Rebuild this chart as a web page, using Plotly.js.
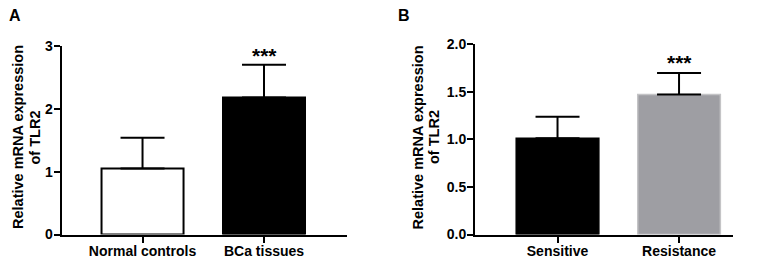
<!DOCTYPE html>
<html><head><meta charset="utf-8">
<script src="https://cdn.plot.ly/plotly-3.0.1.min.js"></script>
<style>html,body{margin:0;padding:0;background:#fff;overflow:hidden}</style>
</head><body><div id="chart" style="width:765px;height:259px"></div>
<script>
// Panel A data
const categoriesA = ["Normal controls", "BCa tissues"];
const meansA = [1.05, 2.18];
const errA = [0.49, 0.52];
const yTicksA = [0, 1, 2, 3];
const yTickTextA = ["0", "1", "2", "3"];
// Panel B data
const categoriesB = ["Sensitive", "Resistance"];
const meansB = [1.01, 1.47];
const errB = [0.225, 0.225];
const yTicksB = [0, 0.5, 1, 1.5, 2];
const yTickTextB = ["0.0", "0.5", "1.0", "1.5", "2.0"];
// significance labels, panel labels, axis title lines
const sigA = "***";
const sigB = "***";
const panelLabels = ["A", "B"];
const yTitleLines = ["Relative mRNA expression", "of TLR2"];

const FONT = "Liberation Sans, Arial, Helvetica, sans-serif";
const f = (s) => ({family: FONT, size: s, color: "#000", weight: "bold"});
const W = 765, H = 259;
const px = (x) => x / W, py = (y) => 1 - y / H;

const traceA = {
  type: "bar", x: categoriesA, y: meansA, xaxis: "x", yaxis: "y",
  width: 0.675,
  marker: {color: ["#ffffff", "#000000"], line: {color: ["#000000", "#000000"], width: 2}},
  error_y: {type: "data", symmetric: false, array: errA, arrayminus: [0, 0], color: "#000", thickness: 2, width: 22},
  hoverinfo: "skip", showlegend: false
};
const traceB = {
  type: "bar", x: categoriesB, y: meansB, xaxis: "x2", yaxis: "y2",
  width: 0.68,
  marker: {color: ["#000000", "#9e9ea3"], line: {color: ["#000000", "#c4c4c6"], width: 1.5}},
  error_y: {type: "data", symmetric: false, array: errB, arrayminus: [0, 0], color: "#000", thickness: 2, width: 22},
  hoverinfo: "skip", showlegend: false
};

const axCommon = {
  showline: true, linewidth: 2, linecolor: "#000", ticks: "outside", ticklen: 6, tickwidth: 2,
  tickcolor: "#000", showgrid: false, zeroline: false, tickfont: f(14), fixedrange: true
};

function titleAnn(xs, yc) {
  return yTitleLines.map((t, i) => ({
    xref: "paper", yref: "paper", x: px(xs[i]), y: py(yc), xanchor: "center", yanchor: "middle",
    text: t, textangle: -90, showarrow: false, font: f(14.5)
  }));
}

const layout = {
  width: W, height: H, margin: {l: 0, r: 0, t: 0, b: 0},
  paper_bgcolor: "#fff", plot_bgcolor: "#fff", bargap: 0,
  font: f(14),
  xaxis: Object.assign({}, axCommon, {domain: [61.5/W, 347/W], range: [-0.667, 1.683], anchor: "y",
    type: "category", ticklabelstandoff: -3}),
  yaxis: Object.assign({}, axCommon, {domain: [24.5/H, 213/H], range: [0, 3], anchor: "x",
    tickmode: "array", tickvals: yTicksA, ticktext: yTickTextA, ticklabelstandoff: -2}),
  xaxis2: Object.assign({}, axCommon, {domain: [475/W, 733/W], range: [-0.679, 1.444], anchor: "y2",
    type: "category", ticklabelstandoff: -3}),
  yaxis2: Object.assign({}, axCommon, {domain: [24.5/H, 215/H], range: [0, 2], anchor: "x2",
    tickmode: "array", tickvals: yTicksB, ticktext: yTickTextB, ticklabelstandoff: -2}),
  annotations: [
    {xref: "x", yref: "y", x: categoriesA[1], y: meansA[1] + errA[1], text: sigA, showarrow: false,
     yanchor: "bottom", yshift: -4, font: f(21)},
    {xref: "x2", yref: "y2", x: categoriesB[1], y: meansB[1] + errB[1], text: sigB, showarrow: false,
     yanchor: "bottom", yshift: -3, font: f(21)},
    {xref: "paper", yref: "paper", x: px(7), y: py(5), xanchor: "left", yanchor: "top",
     text: panelLabels[0], showarrow: false, font: f(16)},
    {xref: "paper", yref: "paper", x: px(396), y: py(5), xanchor: "left", yanchor: "top",
     text: panelLabels[1], showarrow: false, font: f(16)}
  ].concat(titleAnn([17.5, 34], 137.5), titleAnn([417.5, 434], 137))
};

Plotly.newPlot("chart", [traceA, traceB], layout, {displayModeBar: false, staticPlot: true});
</script>
</body></html>
